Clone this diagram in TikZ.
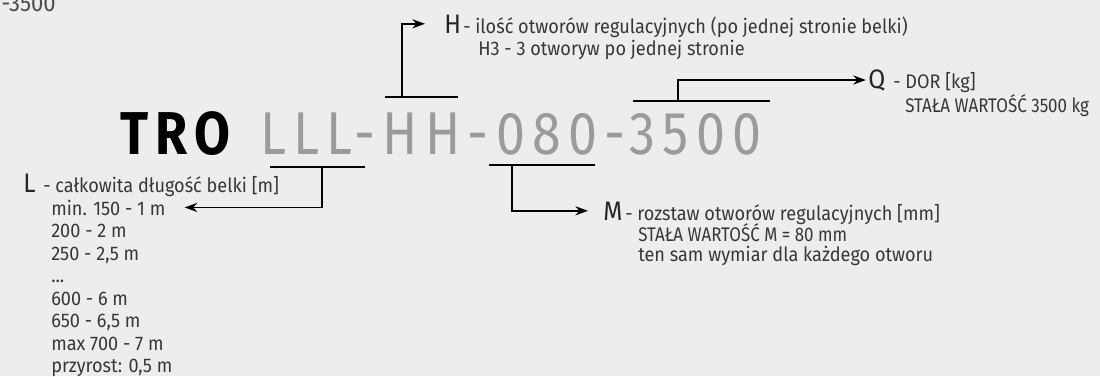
\documentclass[tikz,border=0pt]{standalone}
\usepackage{fontspec}
\setmainfont{Fira Sans}[FakeStretch=0.92]
\newfontfamily\capsfont{Fira Sans}[FakeStretch=0.86]
\newfontfamily\codefont{Fira Sans}[FakeStretch=0.86, LetterSpace=12]
\usepackage{tikz}
\usetikzlibrary{arrows.meta, positioning, calc}
\definecolor{paper}{RGB}{237, 237, 236}
\definecolor{codegray}{RGB}{155, 155, 155}
\definecolor{textgray}{RGB}{55, 55, 55}

\begin{document}
\begin{tikzpicture}[
    x=0.025cm, y=-0.025cm,
    key/.style={inner sep=0pt, anchor=base west, font=\fontsize{19}{19}\selectfont, text=black!85},
    desc/.style={inner sep=0pt, anchor=base west, font=\fontsize{14}{16}\selectfont, text=textgray},
    desccaps/.style={desc, font=\capsfont\fontsize{14}{16}\selectfont},
    bar/.style={line width=1pt, black},
    pointer/.style={line width=1pt, black, -{Stealth[length=9pt, width=6.5pt]}}
]
    % background and frame
    \fill[paper] (0,0) rectangle (1100,376);
    \useasboundingbox (0,0) rectangle (1100,376);

    % cut off code in the corner
    \node[inner sep=0pt, anchor=base east, font=\fontsize{17}{17}\selectfont, text=black!70] (corner) at (56,11) {-3500};

    % part number
    \node[inner sep=0pt, anchor=base west, font=\codefont\bfseries\fontsize{43}{43}\selectfont, text=black] (tro) at (120,154) {TRO};
    \node[inner sep=0pt, anchor=base west, font=\codefont\fontsize{43}{43}\selectfont, text=codegray] (code) at (260,154) {LLL-HH-080-3500};

    % L - length
    \node[key] (Lkey) at (23,192) {L};
    \node[desc] (Lhead) at (43,192) {- całkowita długość belki [m]};
    \node[desc] (L1) at (51,215) {min. 150 - 1 m};
    \node[desc] (L2) at (51,237.5) {200 - 2 m};
    \node[desc] (L3) at (51,260) {250 - 2,5 m};
    \node[desc] (L4) at (51,282.5) {...};
    \node[desc] (L5) at (51,305) {600 - 6 m};
    \node[desc] (L6) at (51,327.5) {650 - 6,5 m};
    \node[desc] (L7) at (51,350) {max 700 - 7 m};
    \node[desc] (L8) at (51,372.5) {przyrost: 0,5 m};

    % H - holes
    \node[key] (Hkey) at (444,33) {H};
    \node[desc] (Hhead) at (463,33) {- ilość otworów regulacyjnych (po jednej stronie belki)};
    \node[desc] (H1) at (478,55) {H3 - 3 otworyw po jednej stronie};

    % Q - load
    \node[key] (Qkey) at (868,88) {Q};
    \node[desc] (Qhead) at (893,88) {- DOR [kg]};
    \node[desccaps] (Q1) at (905,112) {STAŁA WARTOŚĆ 3500 kg};

    % M - spacing
    \node[key] (Mkey) at (603,220) {M};
    \node[desc] (Mhead) at (625,220) {- rozstaw otworów regulacyjnych [mm]};
    \node[desccaps] (M1) at (638,241) {STAŁA WARTOŚĆ M = 80 mm};
    \node[desc] (M2) at (638,261) {ten sam wymiar dla każdego otworu};

    % brackets under / over the code
    \coordinate (Lleft) at (270,167);
    \coordinate (Lright) at (365,167);
    \coordinate (Lfoot) at (322,167);
    \coordinate (Hleft) at (385,97);
    \coordinate (Hright) at (458,97);
    \coordinate (Hfoot) at (402,97);
    \coordinate (Mleft) at (489,165);
    \coordinate (Mright) at (595,165);
    \coordinate (Mfoot) at (512,165);
    \coordinate (Qleft) at (633,101);
    \coordinate (Qright) at (770,101);
    \coordinate (Qfoot) at (678,101);

    \draw[bar] (Lleft) -- (Lright);
    \draw[bar] (Hleft) -- (Hright);
    \draw[bar] (Mleft) -- (Mright);
    \draw[bar] (Qleft) -- (Qright);

    \draw[pointer, shorten >=0.475cm] (Lfoot) |- (L1.east);
    \draw[pointer, shorten >=0.475cm] (Hfoot) |- (Hkey.west);
    \draw[pointer, shorten >=0.375cm] (Mfoot) |- (Mkey.west);
    \draw[pointer, shorten >=1.5pt] (Qfoot) |- (Qkey.west);

\end{tikzpicture}
\end{document}
